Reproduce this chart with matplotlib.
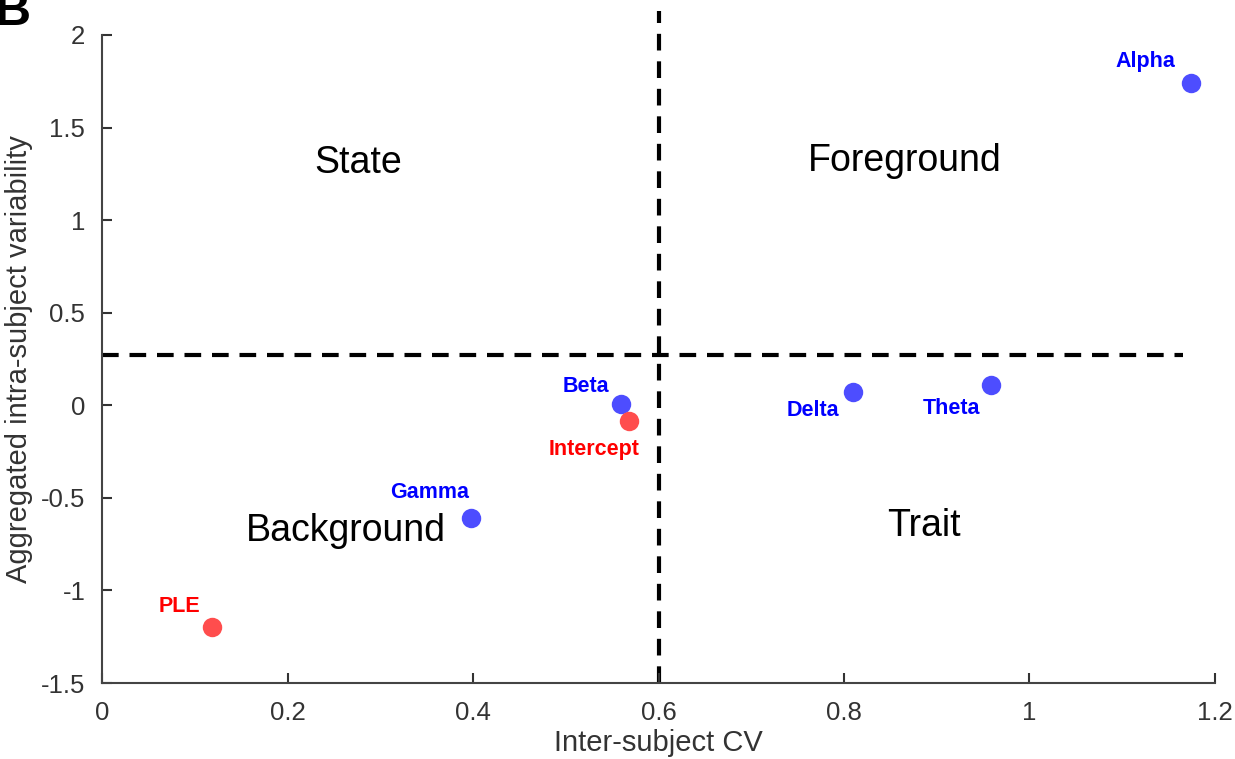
import matplotlib
matplotlib.use("Agg")
import matplotlib.pyplot as plt

plt.rcParams['font.family'] = ['Liberation Sans', 'DejaVu Sans']

# inter-subject CV vs aggregated intra-subject variability per feature
labels = ['Alpha', 'Beta', 'Delta', 'Theta', 'Gamma', 'Intercept', 'PLE']
cv = [1.174, 0.560, 0.810, 0.958, 0.398, 0.568, 0.119]
intra = [1.74, 0.005, 0.07, 0.11, -0.61, -0.085, -1.20]
kind = ['osc', 'osc', 'osc', 'osc', 'osc', 'aper', 'aper']

# label offsets in pixels from each point
offsets = {'Alpha': (-45, 22), 'Beta': (-35, 18), 'Delta': (-40, -18),
           'Theta': (-39, -24), 'Gamma': (-42, 26), 'Intercept': (-35, -28),
           'PLE': (-33, 21)}

cv_split = 0.6
intra_split = 0.27

quadrants = [('State', 0.276, 1.31), ('Foreground', 0.865, 1.32),
             ('Background', 0.263, -0.68), ('Trait', 0.886, -0.65)]

dot_col = {'osc': '#4d4dff', 'aper': '#ff4d4d'}
txt_col = {'osc': '#0000ff', 'aper': '#ff0000'}

fig = plt.figure(figsize=(12.35, 7.59), dpi=100)
ax = fig.add_axes([0.0826, 0.1001, 0.9012, 0.8538])

ax.plot([cv_split, cv_split], [-1.5, 2.13], '--', color='black', lw=3,
        dashes=(4, 2.6), clip_on=False, zorder=1)
ax.plot([0, 1.165], [intra_split, intra_split], '--', color='black', lw=3,
        dashes=(4, 2.6), zorder=1)

for name, x, y, k in zip(labels, cv, intra, kind):
    ax.plot(x, y, 'o', ms=14, color=dot_col[k], mec='none', zorder=3)
    ax.annotate(name, (x, y), xytext=offsets[name], textcoords='offset pixels',
                ha='center', va='center', fontsize=15.5, fontweight='bold',
                color=txt_col[k])

for name, x, y in quadrants:
    ax.text(x, y, name, ha='center', va='center', fontsize=27)

ax.set_xlim(0, 1.2)
ax.set_ylim(-1.5, 2)
ax.set_xticks([0, 0.2, 0.4, 0.6, 0.8, 1, 1.2])
ax.set_xticklabels(['0', '0.2', '0.4', '0.6', '0.8', '1', '1.2'])
ax.set_yticks([-1.5, -1, -0.5, 0, 0.5, 1, 1.5, 2])
ax.set_yticklabels(['-1.5', '-1', '-0.5', '0', '0.5', '1', '1.5', '2'])
ax.tick_params(direction='in', length=7, width=1.5, colors='#333333',
               labelsize=18.5, labelcolor='#333333')
ax.tick_params(axis='x', pad=13)
ax.tick_params(axis='y', pad=12)
for s in ['top', 'right']:
    ax.spines[s].set_visible(False)
for s in ['left', 'bottom']:
    ax.spines[s].set_color('#444444')
    ax.spines[s].set_linewidth(1.5)

ax.set_xlabel('Inter-subject CV', fontsize=21, color='#333333', labelpad=3)
ax.set_ylabel('Aggregated intra-subject variability', fontsize=21,
              color='#333333', labelpad=6)

fig.text(-0.004, 0.954, 'B', fontsize=36, fontweight='bold', va='bottom')

fig.savefig('out.png', dpi=100)
